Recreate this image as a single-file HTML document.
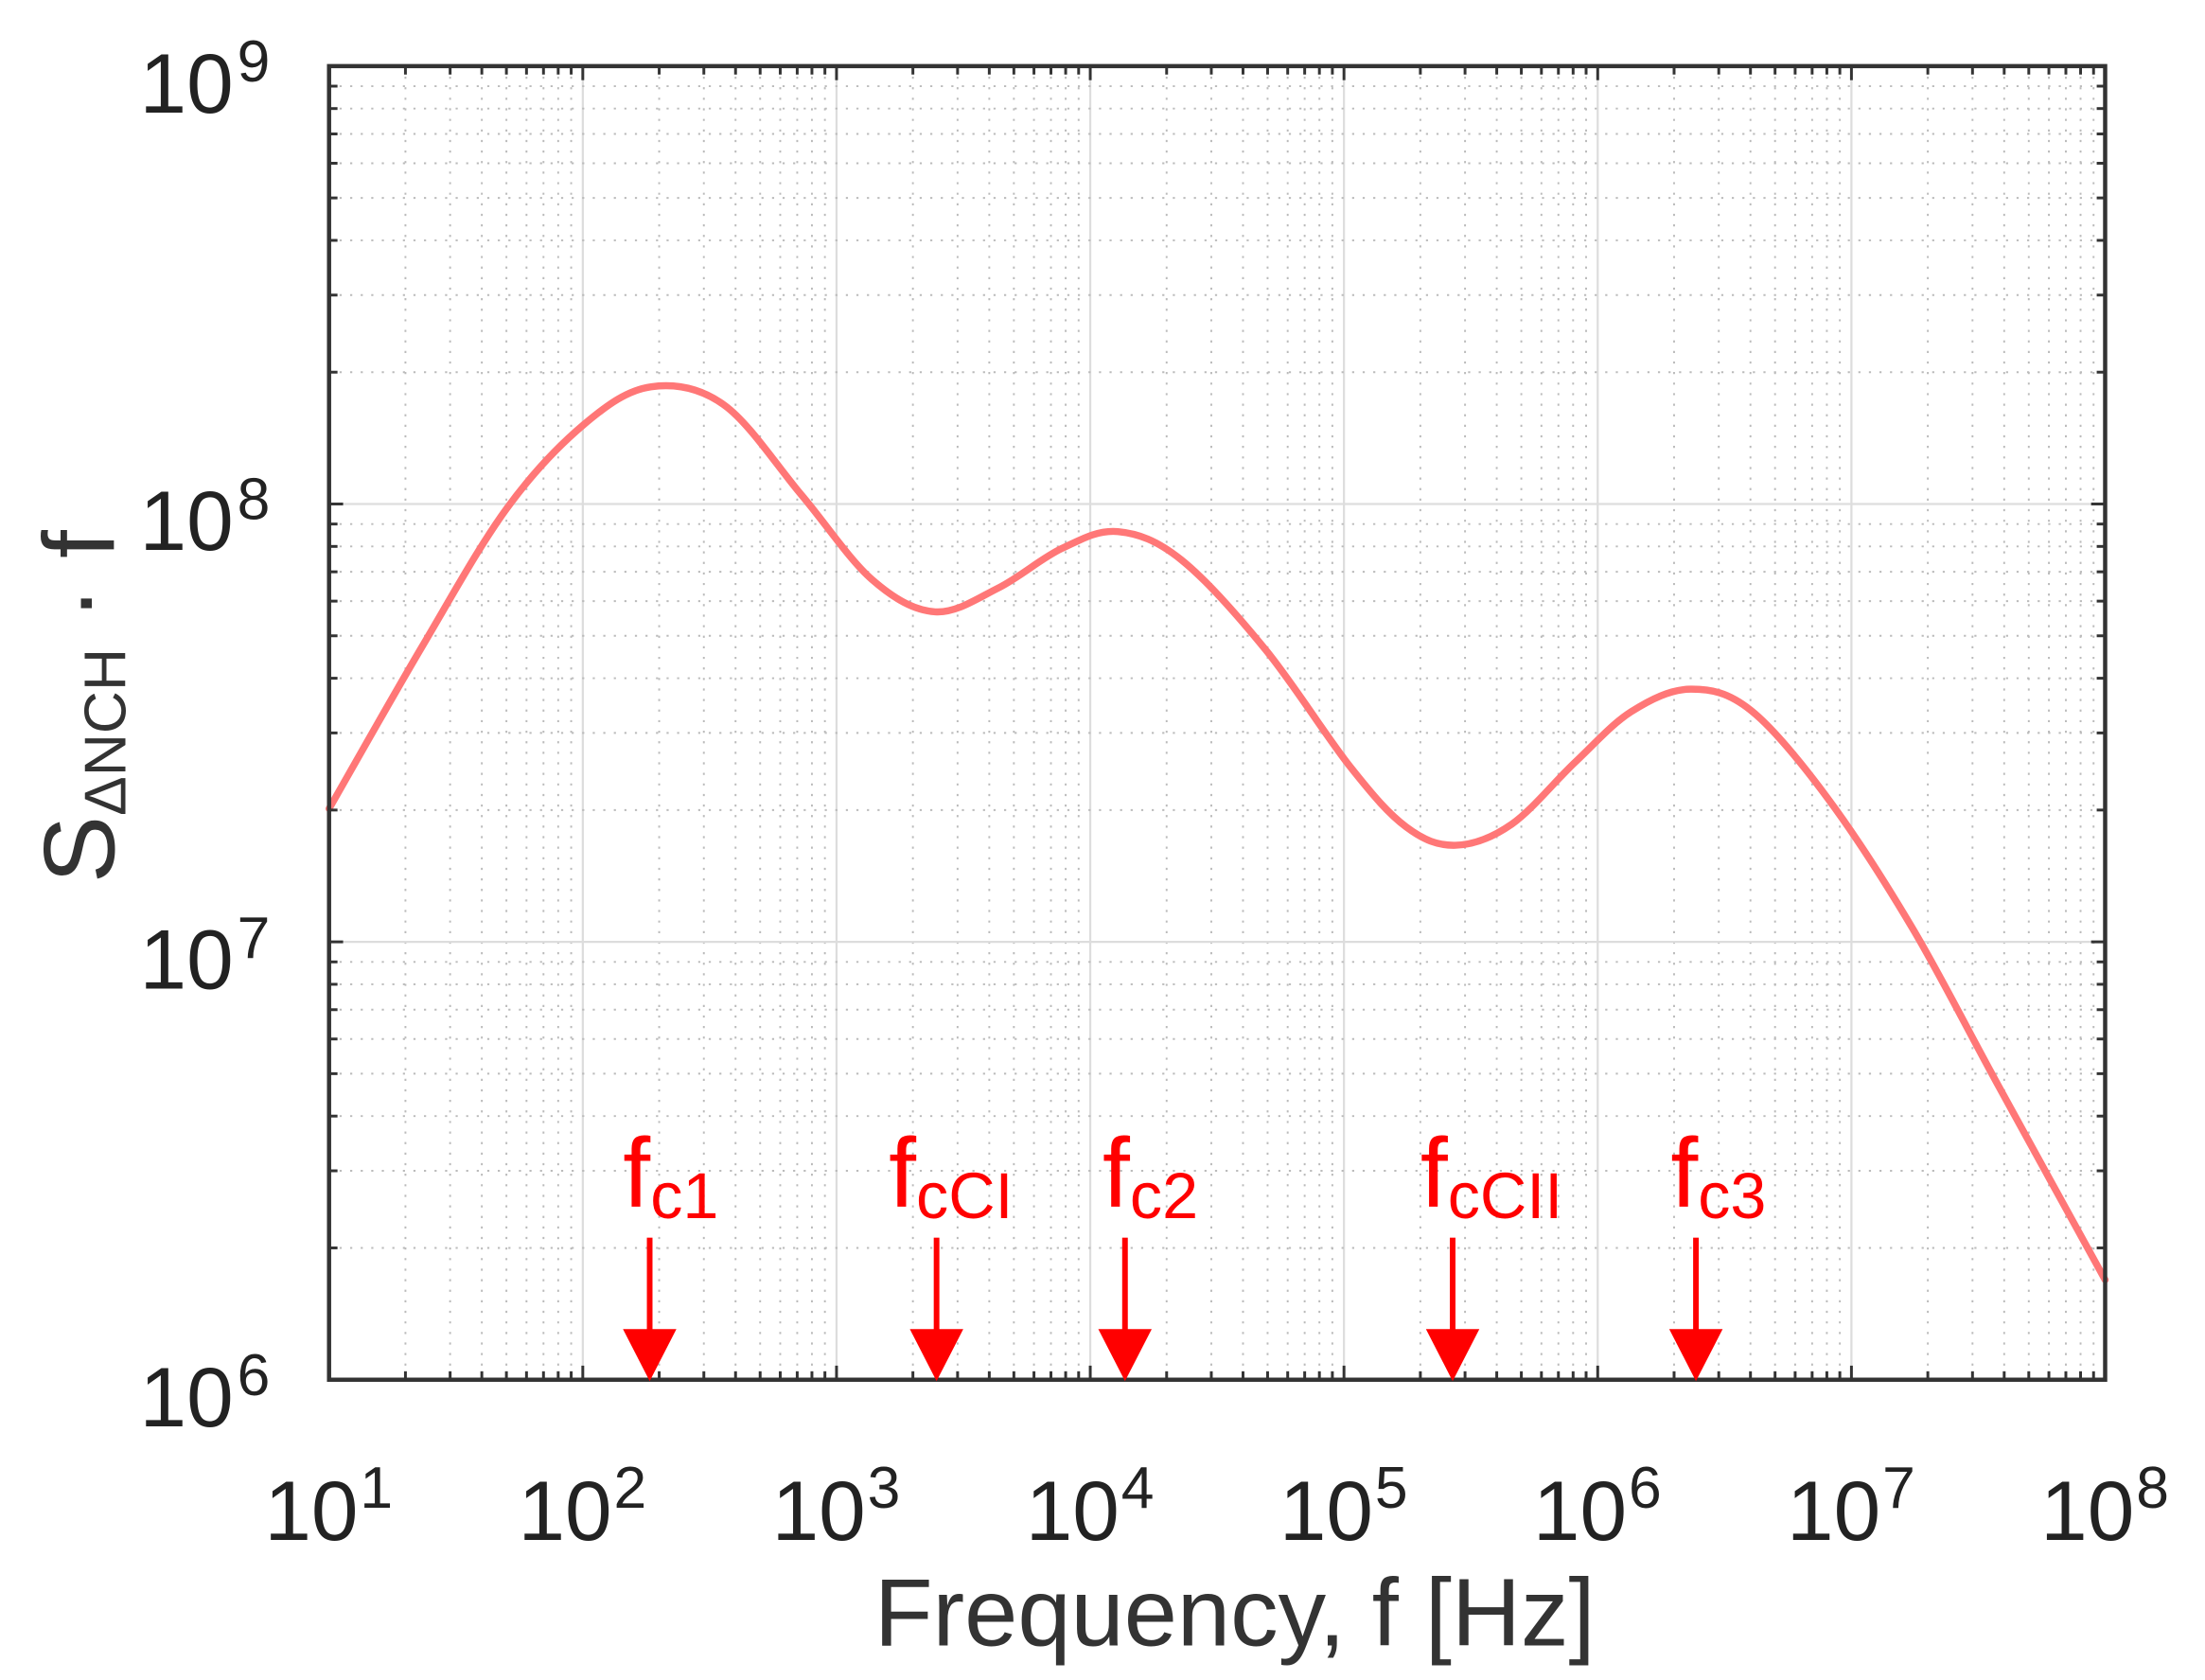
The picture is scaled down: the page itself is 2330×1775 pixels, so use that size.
<!DOCTYPE html>
<html><head><meta charset="utf-8"><style>
html,body{margin:0;padding:0;background:#fff;}
svg{display:block;}
text{font-family:"Liberation Sans",Arial,sans-serif;}
</style></head><body>
<svg id="s" width="2330" height="1775" viewBox="0 0 1568 1194.5" xmlns="http://www.w3.org/2000/svg">
<rect width="1568" height="1194.5" fill="#fff"/>
<g id="grid"></g>
<path id="curve" fill="none" stroke="#f77" stroke-width="5" stroke-linejoin="round" stroke-linecap="round"/>
<rect x="234" y="47" width="1263" height="934" fill="none" stroke="#333" stroke-width="3"/>
<g id="ticks" stroke="#333" stroke-width="2"></g>
<g font-size="60" fill="#222" text-anchor="end">
<text x="166" y="80">10</text><text x="192" y="58" font-size="42">9</text>
<text x="166" y="391">10</text><text x="192" y="369" font-size="42">8</text>
<text x="166" y="703">10</text><text x="192" y="681" font-size="42">7</text>
<text x="166" y="1014">10</text><text x="192" y="992" font-size="42">6</text>
</g>
<g id="xl" font-size="60" fill="#222"></g>
<text x="878" y="1170" font-size="68" fill="#333" text-anchor="middle">Frequency, f [Hz]</text>
<g transform="translate(81,628) rotate(-90)" fill="#333">
<text x="0" y="0" font-size="72">S<tspan font-size="42" dy="8">ΔNCH</tspan><tspan font-size="72" dy="-8"> · f</tspan></text>
</g>
<g id="ann" fill="#f00"></g>
</svg>
<script>
var g=document.getElementById('grid'),t=document.getElementById('ticks'),xl=document.getElementById('xl'),an=document.getElementById('ann');
var ns='http://www.w3.org/2000/svg';
function el(p,n,a,txt){var e=document.createElementNS(ns,n);for(var k in a)e.setAttribute(k,a[k]);if(txt)e.textContent=txt;p.appendChild(e);return e;}
var X0=234,XD=180.43,Y0=981,YD=311.33;
for(var d=0;d<7;d++){for(var k=1;k<10;k++){var x=X0+XD*(d+Math.log10(k));
if(k==1){if(d>0)el(g,'line',{x1:x,y1:47,x2:x,y2:981,stroke:'#ddd','stroke-width':1.5});}
else el(g,'line',{x1:x,y1:47,x2:x,y2:981,stroke:'#bbb','stroke-width':1.3,'stroke-dasharray':'1.5 6'});
var L=k==1?10:6;el(t,'line',{x1:x,y1:981,x2:x,y2:981-L});el(t,'line',{x1:x,y1:47,x2:x,y2:47+L});}}
for(var d=0;d<3;d++){for(var k=1;k<10;k++){var y=Y0-YD*(d+Math.log10(k));
if(k==1){if(d>0)el(g,'line',{x1:234,y1:y,x2:1497,y2:y,stroke:'#ddd','stroke-width':1.5});}
else el(g,'line',{x1:234,y1:y,x2:1497,y2:y,stroke:'#bbb','stroke-width':1.3,'stroke-dasharray':'1.5 6'});
var L=k==1?10:6;el(t,'line',{x1:234,y1:y,x2:234+L,y2:y});el(t,'line',{x1:1497,y1:y,x2:1497-L,y2:y});}}
for(var d=0;d<8;d++){var x=X0+XD*d;el(xl,'text',{x:x-46,y:1095},'10');el(xl,'text',{x:x+22,y:1072,'font-size':42},String(d+1));}
var P=[[234,575],[300,460],[360,362],[415,302],[463,275],[515,288],[570,352],[620,412],[665,435],[710,418],[755,390],[795,378],[840,398],[900,462],[960,545],[1000,588],[1035,601],[1075,586],[1120,542],[1160,506],[1202,490],[1245,505],[1300,568],[1360,660],[1420,770],[1497,910]];
var dstr='M'+P[0][0]+','+P[0][1];
for(var i=0;i<P.length-1;i++){var p0=P[Math.max(0,i-1)],p1=P[i],p2=P[i+1],p3=P[Math.min(P.length-1,i+2)];
dstr+=' C'+(p1[0]+(p2[0]-p0[0])/6)+','+(p1[1]+(p2[1]-p0[1])/6)+' '+(p2[0]-(p3[0]-p1[0])/6)+','+(p2[1]-(p3[1]-p1[1])/6)+' '+p2[0]+','+p2[1];}
document.getElementById('curve').setAttribute('d',dstr);
var A=[[462,'c1',443],[666,'cCI',632],[800,'c2',784],[1033,'cCII',1010],[1206,'c3',1188]];
A.forEach(function(a){el(an,'rect',{x:a[0]-2,y:880,width:4,height:68});
el(an,'polygon',{points:(a[0]-19)+',945 '+(a[0]+19)+',945 '+a[0]+',982'});
var tx=el(an,'text',{x:a[2],y:858,'font-size':70});tx.textContent='f';
var sb=document.createElementNS(ns,'tspan');sb.setAttribute('font-size','46');sb.setAttribute('dy','8');
sb.textContent=a[1];tx.appendChild(sb);});
</script>
</body></html>
